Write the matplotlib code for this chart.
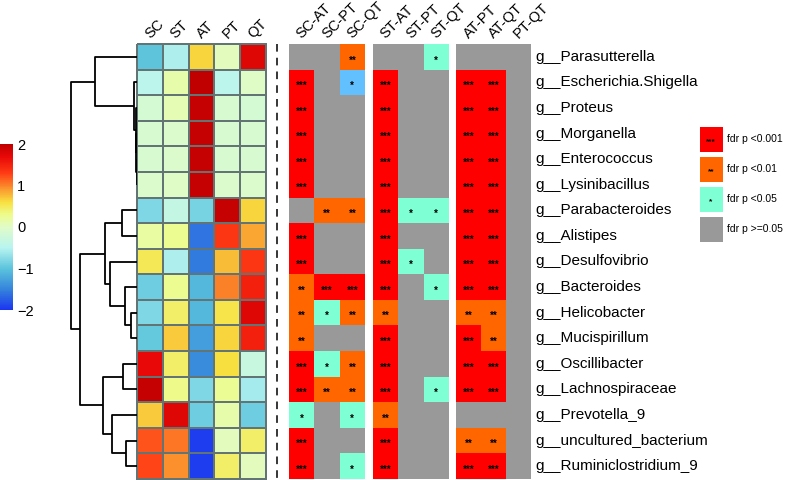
import numpy as np
import matplotlib
matplotlib.use('Agg')
import matplotlib.pyplot as plt
from matplotlib.colors import LinearSegmentedColormap, ListedColormap, BoundaryNorm

plt.rcParams['font.family'] = ['Liberation Sans', 'DejaVu Sans']

# ---- data ----
genera = ['g__Parasutterella', 'g__Escherichia.Shigella', 'g__Proteus', 'g__Morganella',
          'g__Enterococcus', 'g__Lysinibacillus', 'g__Parabacteroides', 'g__Alistipes',
          'g__Desulfovibrio', 'g__Bacteroides', 'g__Helicobacter', 'g__Mucispirillum',
          'g__Oscillibacter', 'g__Lachnospiraceae', 'g__Prevotella_9',
          'g__uncultured_bacterium', 'g__Ruminiclostridium_9']
groups = ['SC', 'ST', 'AT', 'PT', 'QT']

# row z-scores (SC, ST, AT, PT, QT)
zscores = np.array([
    [-1.00, -0.55,  0.65,  0.05,  1.75],
    [-0.45,  0.15,  2.00, -0.45,  0.00],
    [-0.15,  0.10,  1.95, -0.10, -0.15],
    [-0.10, -0.05,  1.95, -0.10, -0.10],
    [-0.10, -0.05,  1.95, -0.10, -0.10],
    [-0.05,  0.00,  1.95, -0.05, -0.05],
    [-0.80, -0.35, -0.85,  1.95,  0.65],
    [ 0.20,  0.28, -1.60,  1.35,  0.85],
    [ 0.50, -0.55, -1.55,  0.75,  1.35],
    [-0.90,  0.28, -1.10,  1.00,  1.50],
    [-0.80,  0.45, -1.10,  0.55,  1.75],
    [-0.95,  0.70, -1.30,  0.65,  1.50],
    [ 1.70,  0.45, -1.45,  0.60, -0.30],
    [ 1.95,  0.30, -0.80,  0.25, -0.60],
    [ 0.70,  1.75, -0.90,  0.15, -0.90],
    [ 1.20,  1.05, -1.95,  0.05,  0.45],
    [ 1.25,  0.95, -1.95,  0.45,  0.05],
])

comparisons = [['SC-AT', 'SC-PT', 'SC-QT'],
               ['ST-AT', 'ST-PT', 'ST-QT'],
               ['AT-PT', 'AT-QT', 'PT-QT']]

# significance code: 3 ***, 2 **, 1 *, 0 n.s., 4 * (light blue)
signif = np.array([
    [0, 0, 2,  0, 0, 1,  0, 0, 0],
    [3, 0, 4,  3, 0, 0,  3, 3, 0],
    [3, 0, 0,  3, 0, 0,  3, 3, 0],
    [3, 0, 0,  3, 0, 0,  3, 3, 0],
    [3, 0, 0,  3, 0, 0,  3, 3, 0],
    [3, 0, 0,  3, 0, 0,  3, 3, 0],
    [0, 2, 2,  3, 1, 1,  3, 3, 0],
    [3, 0, 0,  3, 0, 0,  3, 3, 0],
    [3, 0, 0,  3, 1, 0,  3, 3, 0],
    [2, 3, 3,  3, 0, 1,  3, 3, 0],
    [2, 1, 2,  2, 0, 0,  2, 2, 0],
    [2, 0, 0,  3, 0, 0,  3, 2, 0],
    [3, 1, 2,  3, 0, 0,  3, 3, 0],
    [3, 2, 2,  3, 0, 1,  3, 3, 0],
    [1, 0, 1,  2, 0, 0,  0, 0, 0],
    [3, 0, 0,  3, 0, 0,  2, 2, 0],
    [3, 0, 1,  3, 0, 0,  3, 3, 0],
])

# row dendrogram merges: (left id, right id, height); new ids start at 17
merges = [(4, 5, 0.5), (3, 17, 0.8), (2, 18, 1.5), (1, 19, 3),
          (0, 20, 42), (6, 7, 15), (10, 11, 6), (9, 23, 12),
          (8, 24, 27), (22, 25, 32), (12, 13, 14), (15, 16, 11),
          (14, 28, 25), (27, 29, 34), (26, 30, 57), (21, 31, 66)]

legend_labels = ['fdr p <0.001', 'fdr p <0.01', 'fdr p <0.05', 'fdr p >=0.05']
legend_codes = [3, 2, 1, 0]

# ---- styles ----
sig_colors = ['#999999', '#7fffd4', '#ff6600', '#ff0000', '#63c0ff']
stars = {0: '', 1: '*', 2: '**', 3: '***', 4: '*'}
heat_cmap = LinearSegmentedColormap.from_list('heat', [
    (0.000, '#1a35f0'), (0.125, '#3585dc'), (0.250, '#5cc4dc'),
    (0.375, '#b8f4f0'), (0.500, '#e0fcc8'), (0.575, '#eefc8c'),
    (0.650, '#f8e040'), (0.725, '#fa9c30'), (0.825, '#ff3c14'),
    (0.925, '#e80808'), (1.000, '#c00000')])

W, H = 787, 480
fig = plt.figure(figsize=(W / 100, H / 100), dpi=100)


def rect(x0, y0, x1, y1):
    return [x0 / W, 1 - y1 / H, (x1 - x0) / W, (y1 - y0) / H]


top, bottom = 44, 479
nrow = len(genera)

# heatmap
ax = fig.add_axes(rect(137, top, 266, bottom))
mesh = ax.pcolormesh(zscores, cmap=heat_cmap, vmin=-2, vmax=2,
                     edgecolors='#627474', linewidth=1.2)
mesh.set_clip_on(False)
ax.set_xlim(0, 5)
ax.set_ylim(nrow, 0)
ax.axis('off')
for j, g in enumerate(groups):
    ax.annotate(g, (j + 0.5, 0), xytext=(-5.5, 2), textcoords='offset points',
                rotation=45, ha='left', va='bottom', fontsize=10.5)

# dendrogram
dax = fig.add_axes(rect(69, top, 137, bottom))
pos = {i: i + 0.5 for i in range(nrow)}
hgt = {i: 0.0 for i in range(nrow)}
for k, (a, b, h) in enumerate(merges):
    nid = nrow + k
    dax.plot([hgt[a], h, h, hgt[b]], [pos[a], pos[a], pos[b], pos[b]],
             color='black', lw=1.3, solid_capstyle='butt')
    pos[nid] = (pos[a] + pos[b]) / 2
    hgt[nid] = h
dax.set_xlim(68, 0)
dax.set_ylim(nrow, 0)
dax.axis('off')

# colorbar
cax = fig.add_axes(rect(0, 144, 13, 310))
cb = fig.colorbar(mesh, cax=cax, ticks=[-2, -1, 0, 1, 2])
cb.outline.set_visible(False)
cax.tick_params(length=0, labelsize=10.5, pad=3)

# dashed separator
fig.add_artist(plt.Line2D([277 / W, 277 / W], [1 - top / H, 1 - bottom / H],
                          color='black', lw=1.1, ls=(0, (5, 4))))

# significance panels
sig_cmap = ListedColormap(sig_colors)
sig_norm = BoundaryNorm(np.arange(-0.5, 5.5, 1), sig_cmap.N)
panels = [(289, 365), (373, 449), (456, 531)]
for p, (x0, x1) in enumerate(panels):
    sax = fig.add_axes(rect(x0, top, x1, bottom))
    block = signif[:, 3 * p:3 * p + 3]
    sax.pcolormesh(block, cmap=sig_cmap, norm=sig_norm)
    for i in range(nrow):
        for j in range(3):
            s = stars[block[i, j]]
            if s:
                sax.text(j + 0.5, i + 0.64, s, ha='center', va='center',
                         fontsize=7, fontweight='bold', color='black')
    for j, c in enumerate(comparisons[p]):
        sax.annotate(c, (j + 0.5, 0), xytext=(-5.5, 2), textcoords='offset points',
                     rotation=45, ha='left', va='bottom', fontsize=10.5)
    sax.set_xlim(0, 3)
    sax.set_ylim(nrow, 0)
    sax.axis('off')
    if p == 2:
        for i, g in enumerate(genera):
            sax.annotate(g, (3, i + 0.5), xytext=(3, 0), textcoords='offset points',
                         ha='left', va='center', fontsize=11)

# legend
lax = fig.add_axes(rect(697, 124, 725, 244))
lax.pcolormesh(np.array(legend_codes).reshape(-1, 1), cmap=sig_cmap, norm=sig_norm,
               edgecolors='white', linewidth=2.2)
for i, (code, lab) in enumerate(zip(legend_codes, legend_labels)):
    if stars[code]:
        lax.text(0.5, i + 0.6, stars[code], ha='center', va='center',
                 fontsize=6, fontweight='bold')
    lax.annotate(lab, (1, i + 0.5), xytext=(1.5, 0), textcoords='offset points',
                 ha='left', va='center', fontsize=7.5)
lax.set_xlim(0, 1)
lax.set_ylim(len(legend_codes), 0)
lax.axis('off')

fig.savefig('out.png', dpi=100)
